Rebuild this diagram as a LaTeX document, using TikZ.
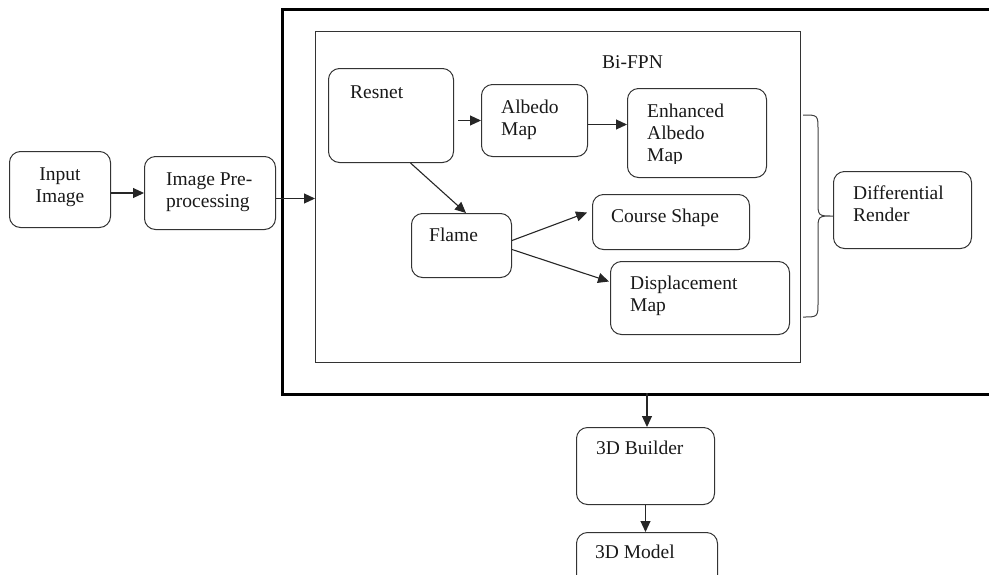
\documentclass[tikz,border=0pt]{standalone}
\usepackage{fontspec}
\setmainfont{Liberation Serif}
\usetikzlibrary{arrows.meta}
\begin{document}
\begin{tikzpicture}[x=1pt,y=-1pt,
  box/.style={draw=black!80, line width=1pt, rounded corners=11pt, inner sep=0pt, anchor=north west},
  lbl/.style={inner sep=0pt, anchor=base west, font=\fontsize{19.5}{22}\selectfont, text=black!90},
  conn/.style={draw=black!85, line width=1.1pt, -{Triangle[length=11pt,width=10pt]}},
]
\useasboundingbox (0,0) rectangle (989,574);
\clip (0,0) rectangle (989,574);
% containers
\node[draw=black, line width=2.8pt, inner sep=0pt, anchor=north west, minimum width=850pt, minimum height=385pt] (outer) at (281,8) {};
\node[draw=black!80, line width=1pt, inner sep=0pt, anchor=north west, minimum width=485pt, minimum height=331pt] (inner) at (315,31) {};
\coordinate (ob) at (647,393);
% boxes
\node[box, minimum width=101pt, minimum height=76pt] (inp) at (9,151) {};
\node[box, minimum width=131pt, minimum height=73pt] (pre) at (144,156) {};
\node[box, minimum width=125pt, minimum height=94pt] (resnet) at (328,68) {};
\node[box, minimum width=106pt, minimum height=72pt] (albedo) at (481,84) {};
\node[box, minimum width=139pt, minimum height=89pt] (enh) at (627,88) {};
\node[box, minimum width=100pt, minimum height=64pt] (flame) at (411,213) {};
\node[box, minimum width=157pt, minimum height=55pt] (course) at (592,194) {};
\node[box, minimum width=179pt, minimum height=73pt] (disp) at (610,261) {};
\node[box, minimum width=138pt, minimum height=77pt] (diff) at (833,171) {};
\node[box, minimum width=138pt, minimum height=77pt] (builder) at (576,427) {};
\node[box, minimum width=141pt, minimum height=70pt] (model) at (576,532) {};
% labels
\node[lbl, anchor=base] (t1) at (60,180) {Input};
\node[lbl, anchor=base] (t2) at (60,202) {Image};
\node[lbl] (t3) at (166,185) {Image Pre-};
\node[lbl] (t4) at (166,207) {processing};
\node[lbl] (t5) at (602,68) {Bi-FPN};
\node[lbl] (t6) at (350,98) {Resnet};
\node[lbl] (t7) at (501,113) {Albedo};
\node[lbl] (t8) at (501,135) {Map};
\node[lbl] (t9) at (647,117) {Enhanced};
\node[lbl] (t10) at (647,139) {Albedo};
\begin{scope}
\clip (630,140) rectangle (760,163.5);
\node[lbl] (t11) at (647,161) {Map};
\end{scope}
\node[lbl] (t12) at (429,241) {Flame};
\node[lbl] (t13) at (611,222) {Course Shape};
\node[lbl] (t14) at (630,289) {Displacement};
\node[lbl] (t15) at (630,311) {Map};
\node[lbl] (t16) at (853,199) {Differential};
\node[lbl] (t17) at (853,221) {Render};
\node[lbl] (t18) at (596,454) {3D Builder};
\node[lbl] (t19) at (595,558) {3D Model};
% connectors
\draw[conn] (inp.east |- pre.west) -- (pre.west);
\draw[conn] ([yshift=-5.5pt]pre.east) -- ([yshift=-5.5pt]pre.east -| inner.west);
\draw[conn] ([xshift=4pt]resnet.east |- albedo.west) -- (albedo.west);
\draw[conn] ([yshift=-4pt]albedo.east) -- ([yshift=-4pt]albedo.east -| enh.west);
\draw[conn] ([xshift=19.5pt]resnet.south) -- ([xshift=4.5pt]flame.north);
\draw[conn] ([yshift=5pt]flame.east) -- ([xshift=-5pt,yshift=9.5pt]course.west);
\draw[conn] ([yshift=-4pt]flame.east) -- ([xshift=-1pt,yshift=16.5pt]disp.west);
\draw[conn] (ob) -- (ob |- builder.north);
\draw[conn] (builder.south) -- (builder.south |- model.north);
% brace
\draw[black!75, line width=1pt] (803,115) .. controls (818,115) .. (818,130) -- (818,201)
  .. controls (818,216) .. (833,216) .. controls (818,216) .. (818,231) -- (818,302)
  .. controls (818,317) .. (803,317);
\end{tikzpicture}
\end{document}
